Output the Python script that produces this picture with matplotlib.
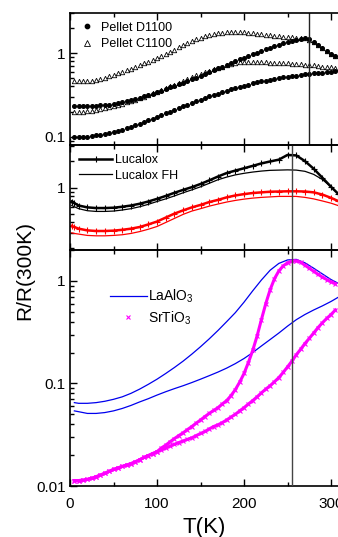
import matplotlib
matplotlib.use('Agg')
import matplotlib.pyplot as plt
from matplotlib.ticker import LogLocator, FuncFormatter, NullFormatter, MultipleLocator

plt.rcParams['font.family'] = ['Liberation Sans', 'DejaVu Sans']
plt.rcParams['mathtext.fontset'] = 'custom'
plt.rcParams['mathtext.rm'] = 'Liberation Sans'
plt.rcParams['mathtext.it'] = 'Liberation Sans'

# ---- top panel: pellets (T every 5 K)
T_top = list(range(5, 310, 5))
c1100_a = [0.46, 0.46, 0.46, 0.465, 0.47, 0.48, 0.49, 0.51, 0.53, 0.55,
           0.575, 0.6, 0.625, 0.65, 0.68, 0.715, 0.75, 0.79, 0.83, 0.87,
           0.92, 0.97, 1.03, 1.1, 1.17, 1.25, 1.33, 1.4, 1.46, 1.52,
           1.58, 1.63, 1.67, 1.71, 1.74, 1.76, 1.77, 1.77, 1.77, 1.76,
           1.74, 1.72, 1.70, 1.67, 1.64, 1.62, 1.60, 1.58, 1.56, 1.55,
           1.54, 1.53, 1.52, 1.5, 1.44, 1.34, 1.24, 1.14, 1.06, 0.98,
           0.92]
d1100_a = [0.235, 0.235, 0.235, 0.235, 0.235, 0.236, 0.238, 0.24, 0.243, 0.247,
           0.252, 0.258, 0.265, 0.273, 0.282, 0.292, 0.303, 0.315, 0.328, 0.342,
           0.357, 0.372, 0.388, 0.405, 0.423, 0.443, 0.465, 0.488, 0.51, 0.535,
           0.56, 0.59, 0.62, 0.655, 0.69, 0.725, 0.76, 0.8, 0.84, 0.88,
           0.92, 0.965, 1.01, 1.06, 1.11, 1.16, 1.21, 1.26, 1.31, 1.35,
           1.39, 1.43, 1.47, 1.5, 1.46, 1.35, 1.24, 1.14, 1.05, 0.97,
           0.91]
c1100_b = [0.2, 0.2, 0.2, 0.202, 0.205, 0.21, 0.215, 0.22, 0.226, 0.233,
           0.24, 0.248, 0.257, 0.267, 0.278, 0.29, 0.302, 0.316, 0.33, 0.346,
           0.362, 0.38, 0.4, 0.42, 0.443, 0.467, 0.49, 0.515, 0.54, 0.565,
           0.59, 0.615, 0.64, 0.665, 0.69, 0.715, 0.74, 0.76, 0.775, 0.78,
           0.78, 0.78, 0.778, 0.775, 0.772, 0.768, 0.764, 0.76, 0.755, 0.75,
           0.745, 0.74, 0.733, 0.726, 0.718, 0.71, 0.7, 0.69, 0.68, 0.672,
           0.665]
d1100_b = [0.1, 0.1, 0.1, 0.101, 0.102, 0.104, 0.106, 0.108, 0.111, 0.114,
           0.118, 0.122, 0.127, 0.132, 0.138, 0.144, 0.151, 0.158, 0.165, 0.173,
           0.182, 0.191, 0.2, 0.21, 0.22, 0.231, 0.242, 0.253, 0.265, 0.277,
           0.29, 0.303, 0.316, 0.329, 0.342, 0.355, 0.368, 0.381, 0.394, 0.407,
           0.42, 0.433, 0.446, 0.458, 0.47, 0.481, 0.492, 0.502, 0.512, 0.521,
           0.53, 0.539, 0.548, 0.556, 0.564, 0.571, 0.578, 0.585, 0.592, 0.598,
           0.604]

# ---- middle panel: Lucalox
T_mid = [2, 5] + list(range(10, 310, 10)) + [308]
luc_black = [0.69, 0.66, 0.62, 0.59, 0.58, 0.58, 0.585, 0.6, 0.62, 0.65, 0.69,
             0.74, 0.8, 0.87, 0.94, 1.01, 1.1, 1.21, 1.34, 1.47, 1.57, 1.67,
             1.78, 1.9, 2.0, 2.1, 2.38, 2.35, 2.02, 1.65, 1.3, 1.02, 0.85]
fh_black = [0.62, 0.6, 0.57, 0.54, 0.53, 0.53, 0.535, 0.55, 0.57, 0.6, 0.64,
            0.69, 0.74, 0.8, 0.87, 0.94, 1.02, 1.12, 1.23, 1.32, 1.4, 1.46,
            1.51, 1.55, 1.58, 1.59, 1.6, 1.59, 1.54, 1.42, 1.24, 1.02, 0.85]
luc_red = [0.36, 0.35, 0.335, 0.32, 0.315, 0.315, 0.318, 0.325, 0.335, 0.35, 0.375,
           0.405, 0.45, 0.5, 0.545, 0.59, 0.63, 0.68, 0.72, 0.77, 0.81, 0.84,
           0.865, 0.88, 0.895, 0.9, 0.905, 0.905, 0.9, 0.88, 0.83, 0.76, 0.7]
fh_red = [0.3, 0.295, 0.29, 0.28, 0.277, 0.277, 0.28, 0.285, 0.295, 0.31, 0.33,
          0.355, 0.395, 0.44, 0.49, 0.535, 0.57, 0.61, 0.645, 0.68, 0.71, 0.735,
          0.755, 0.77, 0.78, 0.79, 0.79, 0.79, 0.77, 0.74, 0.7, 0.66, 0.62]

# ---- bottom panel: substrates
T_lao = [5, 10] + list(range(20, 310, 10)) + [308]
lao_a = [0.065, 0.064, 0.064, 0.065, 0.067, 0.07, 0.074, 0.08, 0.088, 0.098, 0.11,
         0.125, 0.143, 0.165, 0.193, 0.228, 0.272, 0.328, 0.4, 0.49, 0.62, 0.8,
         1.02, 1.27, 1.48, 1.6, 1.62, 1.5, 1.33, 1.17, 1.03, 0.95]
lao_b = [0.054, 0.053, 0.051, 0.051, 0.052, 0.054, 0.057, 0.061, 0.066, 0.071, 0.077,
         0.083, 0.089, 0.095, 0.102, 0.11, 0.119, 0.129, 0.141, 0.156, 0.175, 0.2,
         0.232, 0.268, 0.31, 0.362, 0.418, 0.47, 0.52, 0.57, 0.63, 0.69]

T_sto = list(range(5, 310, 5))
sto_low = [0.0113, 0.0113, 0.0114, 0.0116, 0.0119, 0.0123, 0.0128, 0.0133, 0.0139, 0.0145,
           0.015, 0.0155, 0.016, 0.0165, 0.0172, 0.018, 0.019, 0.0198, 0.0207, 0.0216]
sto_up = sto_low + [0.0235, 0.025, 0.027, 0.029, 0.031, 0.033, 0.0355, 0.038, 0.041, 0.044,
                    0.0475, 0.051, 0.0545, 0.058, 0.063, 0.068, 0.076, 0.087, 0.103, 0.125,
                    0.16, 0.21, 0.29, 0.42, 0.6, 0.82, 1.05, 1.25, 1.4, 1.5,
                    1.56, 1.57, 1.52, 1.42, 1.33, 1.24, 1.16, 1.09, 1.03, 0.98,
                    0.94]
sto_dn = sto_low + [0.0225, 0.0235, 0.0245, 0.0255, 0.0265, 0.0275, 0.0285, 0.0295, 0.031, 0.0325,
                    0.034, 0.036, 0.038, 0.0395, 0.0415, 0.044, 0.047, 0.05, 0.054, 0.058,
                    0.063, 0.068, 0.074, 0.081, 0.088, 0.095, 0.104, 0.114, 0.128, 0.145,
                    0.165, 0.19, 0.215, 0.245, 0.275, 0.31, 0.35, 0.39, 0.43, 0.47,
                    0.52]

T_line_top = 275
T_line_low = 255

fig = plt.figure(figsize=(3.38, 5.37), dpi=100)
left = 70 / 338
ax1 = fig.add_axes([left, 1 - 145 / 537, 1 - left, 132 / 537])
ax2 = fig.add_axes([left, 1 - 250 / 537, 1 - left, 105 / 537])
ax3 = fig.add_axes([left, 1 - 486 / 537, 1 - left, 236 / 537])

# top
ax1.plot(T_top, c1100_a, ls='none', marker='^', ms=3.2, mfc='white', mec='black', mew=0.6,
         label='Pellet C1100')
ax1.plot(T_top, c1100_b, ls='none', marker='^', ms=3.2, mfc='white', mec='black', mew=0.6)
ax1.plot(T_top, d1100_a, ls='none', marker='o', ms=2.6, color='black', label='Pellet D1100')
ax1.plot(T_top, d1100_b, ls='none', marker='o', ms=2.6, color='black')
ax1.axvline(T_line_top, color='#222222', lw=1)
ax1.set_ylim(0.08, 3.0)
h, l = ax1.get_legend_handles_labels()
ax1.legend(h[::-1], l[::-1], loc='upper left', frameon=False, fontsize=9,
           borderpad=0.2, borderaxespad=0.5, handlelength=1.3, handletextpad=0.5,
           labelspacing=0.35, markerscale=1.2)

# middle
ax2.plot(T_mid, fh_black, color='black', lw=0.9, label='Lucalox FH')
ax2.plot(T_mid, luc_black, color='black', lw=1.8, marker='+', ms=4, mew=0.8, label='Lucalox')
ax2.plot(T_mid, fh_red, color='red', lw=0.9)
ax2.plot(T_mid, luc_red, color='red', lw=1.8, marker='+', ms=4, mew=0.8)
ax2.axvline(T_line_low, color='#444444', lw=1)
ax2.set_ylim(0.19, 3.1)
h, l = ax2.get_legend_handles_labels()
ax2.legend(h[::-1], l[::-1], loc='upper left', frameon=False, fontsize=9,
           borderpad=0.45, borderaxespad=0.3, handlelength=2.6, handletextpad=0.25,
           labelspacing=0.25)

# bottom
ax3.plot(T_lao, lao_a, color='#0000ee', lw=0.9, label='LaAlO$_3$', zorder=2)
ax3.plot(T_lao, lao_b, color='#0000ee', lw=0.9, zorder=2)
ax3.plot(T_sto, sto_up, color='#ff00ff', lw=2.2, marker='x', ms=3, mew=0.8,
         label='SrTiO$_3$', zorder=3)
ax3.plot(T_sto, sto_dn, color='#ff00ff', lw=2.2, marker='x', ms=3, mew=0.8, zorder=3)
ax3.axvline(T_line_low, color='#444444', lw=1, zorder=4)
ax3.set_ylim(0.01, 2.0)
h, l = ax3.get_legend_handles_labels()
leg = ax3.legend(h, l, loc='upper left', bbox_to_anchor=(0.149, 0.84), frameon=False,
                 fontsize=10, borderpad=0, borderaxespad=0, handlelength=2.66,
                 handletextpad=0.05, labelspacing=0.3)
leg.legend_handles[1].set_linestyle('none')

for ax in (ax1, ax2, ax3):
    ax.set_yscale('log')
    ax.set_xlim(0, 308)
    ax.xaxis.set_major_locator(MultipleLocator(100))
    ax.xaxis.set_minor_locator(MultipleLocator(50))
    ax.yaxis.set_major_locator(LogLocator(base=10))
    ax.yaxis.set_minor_locator(LogLocator(base=10, subs=range(2, 10)))
    ax.yaxis.set_major_formatter(FuncFormatter(lambda v, p: f'{v:g}'))
    ax.yaxis.set_minor_formatter(NullFormatter())
    ax.tick_params(which='both', direction='in', top=True, bottom=True, right=False,
                   labelsize=11, width=1, colors='black', pad=3)
    ax.tick_params(which='major', length=5)
    ax.tick_params(which='minor', length=3)
    ax.spines['right'].set_visible(False)
    for s in ('left', 'top', 'bottom'):
        ax.spines[s].set_linewidth(1.2)
    ax.set_facecolor('none')

ax1.tick_params(labelbottom=False)
ax2.tick_params(labelbottom=False)
ax3.set_xticks([0, 100, 200, 300])
ax3.tick_params(axis='x', which='major', pad=8)
ax3.set_xlabel('T(K)', fontsize=16, labelpad=4)
fig.text(25 / 338, 1 - 270 / 537, 'R/R(300K)', rotation=90, fontsize=15,
         ha='center', va='center')

fig.savefig('out.png', dpi=100)
